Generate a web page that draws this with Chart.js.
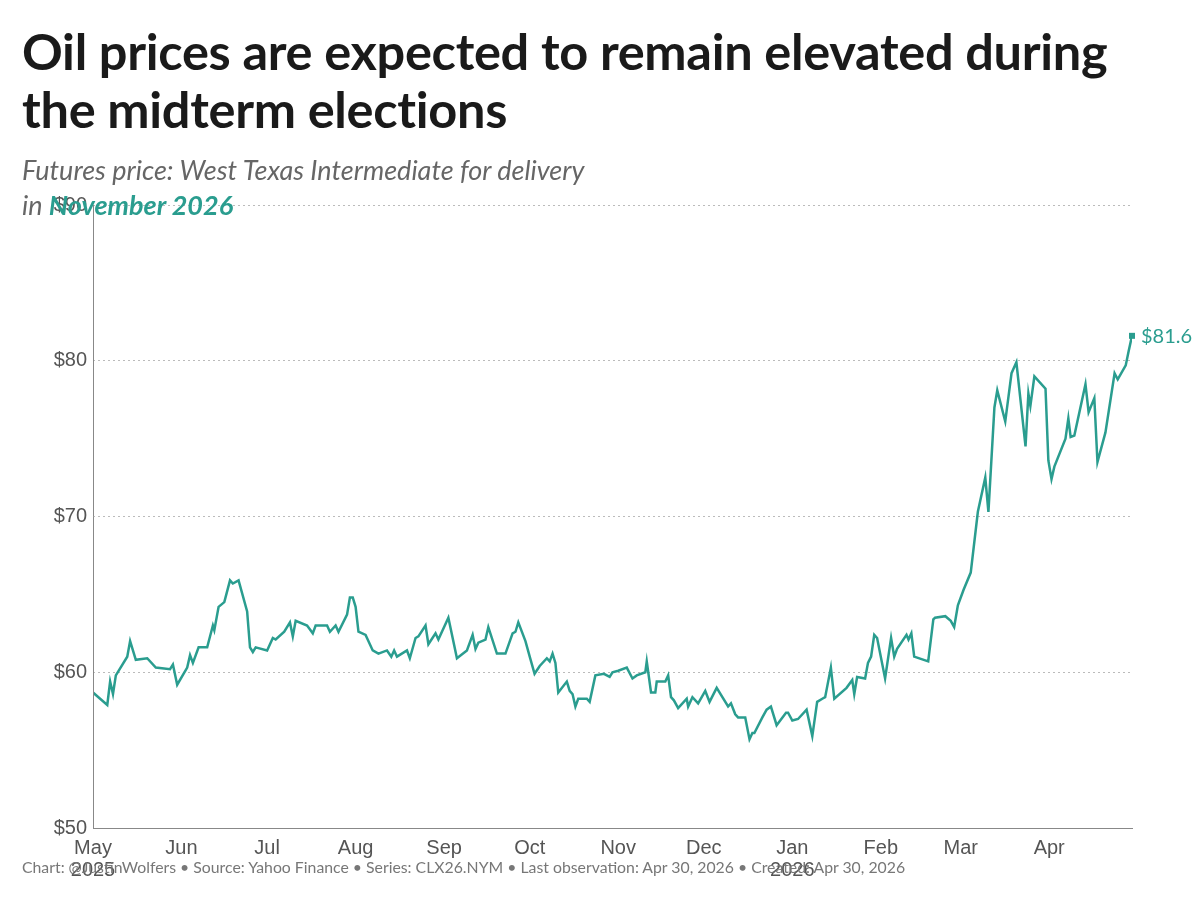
<!DOCTYPE html>
<html>
<head>
<meta charset="utf-8">
<script src="https://cdn.jsdelivr.net/npm/chart.js@4/dist/chart.umd.min.js"></script>
<style>
  body { margin: 0; background: #fff; }
  #wrap { position: relative; width: 1200px; height: 900px; }
  canvas { position: absolute; left: 0; top: 0; }
  .txt { position: absolute; font-family: Lato, "Open Sans", sans-serif; }
  #title { left: 22px; top: 22px; font-size: 50.5px; font-weight: 700; color: #1a1a1a; line-height: 58px; letter-spacing: -0.3px; white-space: nowrap; }
  #sub { left: 22px; top: 152px; font-size: 27px; font-style: italic; color: #666; line-height: 35px; white-space: nowrap; }
  #sub b { color: #2a9d8f; }
  #foot { left: 22px; top: 857px; font-size: 15.8px; color: #777; white-space: nowrap; }
</style>
</head>
<body>
<div id="wrap">
  <canvas id="chart" width="1200" height="900"></canvas>
  <div class="txt" id="title">Oil prices are expected to remain elevated during<br>the midterm elections</div>
  <div class="txt" id="sub">Futures price: West Texas Intermediate for delivery<br>in <b>November 2026</b></div>
  <div class="txt" id="foot">Chart: @JustinWolfers • Source: Yahoo Finance • Series: CLX26.NYM • Last observation: Apr 30, 2026 • Created: Apr 30, 2026</div>
</div>
<script>
// days since May 1, 2025
var days = [0,5,6,7,8,12,13,15,19,22,27,28,29.5,33,34,35,37,40,42,42.5,44,46,48,49,51,54,55,56,57,61,63,64,67,69,70,71,75,77,78,82,83,85,86,89,90,91,92,93,95.5,98,100,103,104.5,105.5,106.5,110,111,113,114,116.5,117.5,120,121,124.5,127.5,131,133,134,135,137.5,138.5,141.5,144.5,147,148,149,151.5,153,154.7,156.5,159,160,161,162,163,166,167,168,169,170,173,174,176,179,181,182,184,187,189,190.5,193.5,194,195.5,197,197.5,200.5,201.5,202.5,203.5,205,208,208.5,210,212,214.5,216,218.5,222.5,223.5,225,226,228.5,230,231,231.7,234.5,236,237.5,239.5,242.8,243.5,245,247,250,252,253.7,255.5,256.5,258.5,259.7,264,266,266.7,267.7,270.5,271.5,272.6,273.7,274.7,277.5,279.6,280.7,281.7,285,285.7,286.7,287.7,292.6,294.4,295,298.6,300.5,301.7,303,305,307.5,310,312.6,313.7,315.8,316.8,319.6,321.8,323.5,326.7,327.7,328.4,329.8,333.7,334.7,335.8,336.8,340.7,341.7,342.5,343.8,347.7,348.8,350.8,351.9,354.7,357.9,359,361.8,362.8,364];
var prices = [58.7,57.9,59.4,58.6,59.8,61.0,62.0,60.8,60.9,60.3,60.2,60.5,59.2,60.3,61.1,60.6,61.6,61.6,63.0,62.7,64.2,64.5,65.9,65.7,65.9,63.9,61.6,61.3,61.6,61.4,62.2,62.1,62.6,63.2,62.3,63.3,63.0,62.5,63.0,63.0,62.6,63.0,62.6,63.7,64.8,64.8,64.2,62.6,62.4,61.4,61.2,61.4,61.0,61.4,61.0,61.4,60.9,62.2,62.3,63.0,61.8,62.5,62.1,63.5,60.9,61.4,62.4,61.5,61.9,62.1,62.9,61.2,61.2,62.5,62.6,63.2,62.0,61.0,59.9,60.4,60.9,60.7,61.2,60.6,58.7,59.4,58.8,58.6,57.8,58.3,58.3,58.1,59.8,59.9,59.7,60.0,60.1,60.3,59.6,59.8,60.0,60.7,58.7,58.7,59.4,59.4,59.8,58.4,58.2,57.7,58.3,57.8,58.4,58.0,58.8,58.1,59.0,57.8,58.0,57.3,57.1,57.1,55.7,56.1,56.1,57.1,57.6,57.8,56.6,57.4,57.4,56.9,57.0,57.6,55.9,58.1,58.3,58.4,60.3,58.3,59.0,59.5,58.6,59.7,59.6,60.6,61.0,62.4,62.2,59.6,62.2,61.0,61.5,62.4,62.1,62.5,61.0,60.7,63.4,63.5,63.6,63.3,62.9,64.3,65.3,66.4,70.3,72.5,70.3,77.0,78.1,76.1,79.2,79.9,74.5,77.9,77.1,79.0,78.2,73.6,72.4,73.2,75.0,76.3,75.1,75.2,78.5,76.7,77.6,73.5,75.4,79.2,78.8,79.7,80.6,81.6];
var monthDays = [0,31,61,92,123,153,184,214,245,276,304,335];
var monthLabels = [["May","2025"],"Jun","Jul","Aug","Sep","Oct","Nov","Dec",["Jan","2026"],"Feb","Mar","Apr"];
var yTicks = [50,60,70,80,90];

var teal = '#2a9d8f';
var pts = days.map(function(d, i) { return {x: d, y: prices[i]}; });

var endLabel = {
  id: 'endLabel',
  afterDatasetsDraw: function(chart) {
    var meta = chart.getDatasetMeta(0);
    var last = meta.data[meta.data.length - 1];
    var area = chart.chartArea;
    var ctx = chart.ctx;
    ctx.save();
    // solid left axis line
    ctx.strokeStyle = '#888';
    ctx.lineWidth = 1;
    ctx.beginPath();
    ctx.moveTo(area.left + 0.5, area.top);
    ctx.lineTo(area.left + 0.5, area.bottom);
    ctx.stroke();
    ctx.fillStyle = teal;
    ctx.fillRect(last.x - 3, last.y - 3, 6, 6);
    ctx.font = '20px Lato, sans-serif';
    ctx.textBaseline = 'middle';
    ctx.fillText('$' + prices[prices.length - 1].toFixed(1), last.x + 9, last.y + 1);
    ctx.restore();
  }
};

new Chart(document.getElementById('chart'), {
  type: 'line',
  data: { datasets: [{ data: pts, borderColor: teal, borderWidth: 2.5, pointRadius: 0, tension: 0, fill: false }] },
  options: {
    responsive: false,
    animation: false,
    layout: { padding: { left: 0, right: 68, top: 205, bottom: 22 } },
    plugins: { legend: { display: false }, tooltip: { enabled: false } },
    scales: {
      x: {
        type: 'linear', min: 0, max: 364,
        afterBuildTicks: function(s) { s.ticks = monthDays.map(function(v) { return {value: v}; }); },
        afterFit: function(s) { s.height = 50; },
        ticks: {
          autoSkip: false, maxRotation: 0, color: '#555', padding: 1,
          font: { family: 'Liberation Sans', size: 20, lineHeight: 1.1 },
          callback: function(v, i) { return monthLabels[i]; }
        },
        grid: { display: false },
        border: { display: true, color: '#888', width: 1 }
      },
      y: {
        min: 50, max: 90,
        afterBuildTicks: function(s) { s.ticks = yTicks.map(function(v) { return {value: v}; }); },
        afterFit: function(s) { s.width = 93; },
        ticks: {
          color: '#555', padding: 6,
          font: { family: 'Liberation Sans', size: 20 },
          callback: function(v) { return '$' + v; }
        },
        grid: { color: '#bbb', drawTicks: false, lineWidth: 1 },
        border: { display: false, dash: [2, 3] }
      }
    }
  },
  plugins: [endLabel]
});
</script>
</body>
</html>
